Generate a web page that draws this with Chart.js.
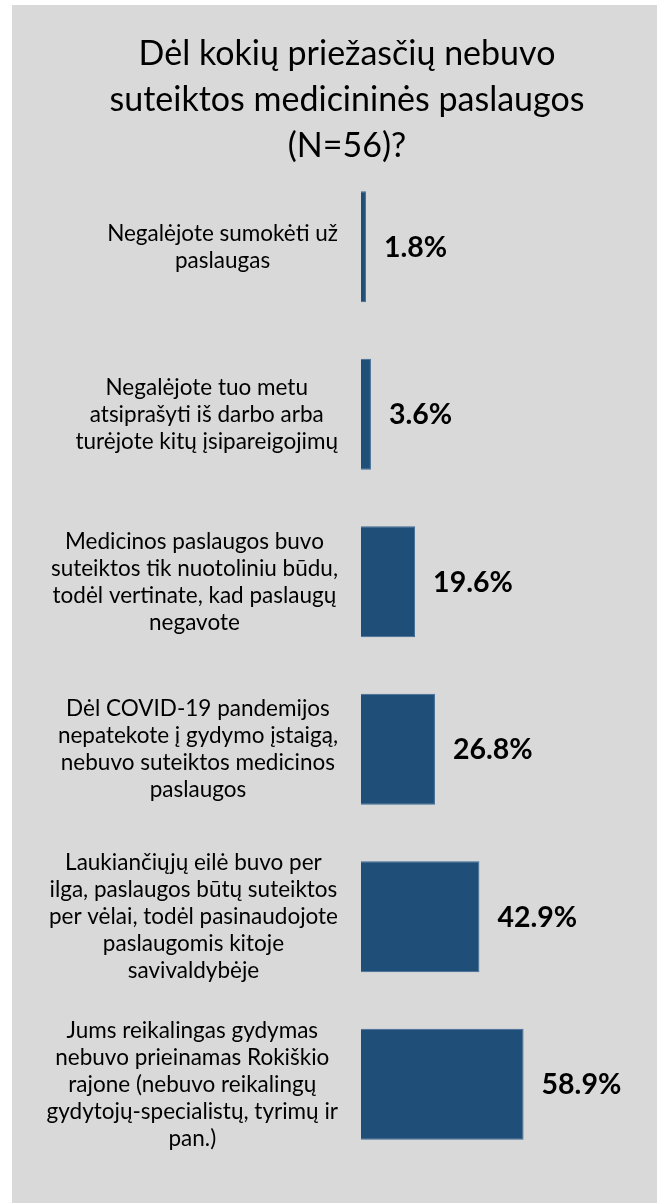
<!DOCTYPE html>
<html>
<head>
<meta charset="utf-8">
<script src="https://cdn.jsdelivr.net/npm/chart.js@4"></script>
<style>
  html, body { margin: 0; padding: 0; background: #ffffff; }
  #wrap { position: relative; width: 662px; height: 1203px; }
</style>
</head>
<body>
<div id="wrap"><canvas id="c" width="662" height="1203"></canvas></div>
<script>
// ---- data ----
const titleLines = [
  "Dėl kokių priežasčių nebuvo",
  "suteiktos medicininės paslaugos",
  "(N=56)?"
];
const categories = [
  ["Negalėjote sumokėti už", "paslaugas"],
  ["Negalėjote tuo metu", "atsiprašyti iš darbo arba", "turėjote kitų įsipareigojimų"],
  ["Medicinos paslaugos buvo", "suteiktos tik nuotoliniu būdu,", "todėl vertinate, kad paslaugų", "negavote"],
  ["Dėl COVID-19 pandemijos", "nepatekote į gydymo įstaigą,", "nebuvo suteiktos medicinos", "paslaugos"],
  ["Laukiančiųjų eilė buvo per", "ilga, paslaugos būtų suteiktos", "per vėlai, todėl pasinaudojote", "paslaugomis kitoje", "savivaldybėje"],
  ["Jums reikalingas gydymas", "nebuvo prieinamas Rokiškio", "rajone (nebuvo reikalingų", "gydytojų-specialistų, tyrimų ir", "pan.)"]
];
const values = [1.8, 3.6, 19.6, 26.8, 42.9, 58.9];
const valueLabels = ["1.8%", "3.6%", "19.6%", "26.8%", "42.9%", "58.9%"];

// ---- plugins ----
const panelBg = {
  id: 'panelBg',
  beforeDraw(chart) {
    const ctx = chart.ctx;
    ctx.save();
    ctx.fillStyle = '#d9d9d9';
    ctx.fillRect(12, 5, 645, 1198);
    ctx.restore();
  }
};

const catLabels = {
  id: 'catLabels',
  afterDraw(chart) {
    const ctx = chart.ctx;
    const y = chart.scales.y;
    const right = 338, lh = 27;
    ctx.save();
    ctx.font = '22.5px Lato';
    ctx.fillStyle = '#000';
    ctx.textAlign = 'center';
    ctx.textBaseline = 'middle';
    categories.forEach((lines, i) => {
      const cy = y.getPixelForTick(i);
      const w = Math.max(...lines.map(l => ctx.measureText(l).width));
      const cx = right - w / 2;
      lines.forEach((l, j) => {
        ctx.fillText(l, cx, cy + (j - (lines.length - 1) / 2) * lh);
      });
    });
    ctx.restore();
  }
};

const valLabels = {
  id: 'valLabels',
  afterDatasetsDraw(chart) {
    const ctx = chart.ctx;
    const meta = chart.getDatasetMeta(0);
    ctx.save();
    ctx.font = 'bold 28.5px Lato';
    ctx.fillStyle = '#000';
    ctx.textAlign = 'left';
    ctx.textBaseline = 'middle';
    meta.data.forEach((bar, i) => {
      ctx.fillText(valueLabels[i], bar.x + 18, bar.y + 1);
    });
    ctx.restore();
  }
};

new Chart(document.getElementById('c'), {
  type: 'bar',
  data: {
    labels: categories,
    datasets: [{
      data: values,
      backgroundColor: '#1f4e79',
      borderColor: '#3d6a94',
      borderWidth: 1,
      barPercentage: 0.663,
      categoryPercentage: 1
    }]
  },
  options: {
    indexAxis: 'y',
    responsive: false,
    animation: false,
    layout: { padding: { left: 57, right: 25, top: 0, bottom: 35 } },
    plugins: {
      legend: { display: false },
      tooltip: { enabled: false },
      title: {
        display: true,
        text: titleLines,
        color: '#000',
        font: { family: 'Lato', size: 34, weight: 'normal', lineHeight: 46 / 34 },
        padding: { top: 31, bottom: -6 }
      }
    },
    scales: {
      x: { display: false, min: 0, max: 100 },
      y: {
        display: true,
        grid: { display: false },
        border: { display: false },
        ticks: { display: false },
        afterFit(scale) { scale.width = 304; }
      }
    }
  },
  plugins: [panelBg, catLabels, valLabels]
});
</script>
</body>
</html>
